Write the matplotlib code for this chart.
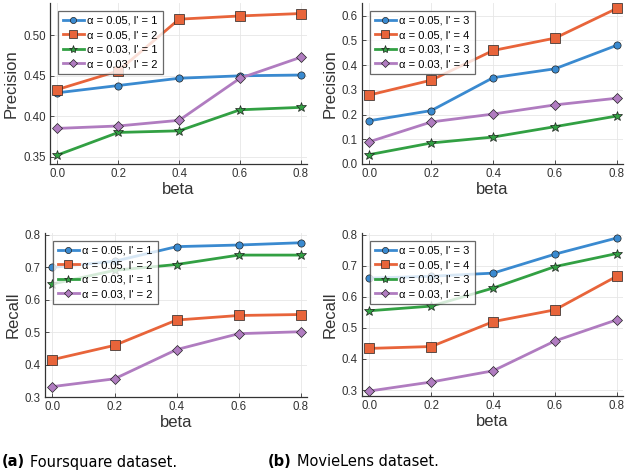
import matplotlib.pyplot as plt

plt.rcParams['font.family'] = ['Liberation Sans', 'DejaVu Sans']

beta = [0.0, 0.2, 0.4, 0.6, 0.8]

# Foursquare
fs_labels = ["α = 0.05, l' = 1", "α = 0.05, l' = 2", "α = 0.03, l' = 1", "α = 0.03, l' = 2"]
fs_precision = [
    [0.429, 0.438, 0.447, 0.450, 0.451],
    [0.433, 0.456, 0.520, 0.524, 0.527],
    [0.352, 0.380, 0.382, 0.408, 0.411],
    [0.385, 0.388, 0.395, 0.447, 0.473],
]
fs_recall = [
    [0.699, 0.718, 0.763, 0.768, 0.775],
    [0.415, 0.459, 0.537, 0.551, 0.554],
    [0.648, 0.690, 0.708, 0.737, 0.737],
    [0.332, 0.356, 0.446, 0.495, 0.501],
]

# MovieLens
ml_labels = ["α = 0.05, l' = 3", "α = 0.05, l' = 4", "α = 0.03, l' = 3", "α = 0.03, l' = 4"]
ml_precision = [
    [0.175, 0.216, 0.349, 0.385, 0.480],
    [0.279, 0.339, 0.459, 0.509, 0.629],
    [0.038, 0.085, 0.109, 0.151, 0.194],
    [0.090, 0.170, 0.202, 0.239, 0.266],
]
ml_recall = [
    [0.660, 0.666, 0.676, 0.737, 0.789],
    [0.434, 0.440, 0.520, 0.558, 0.666],
    [0.555, 0.570, 0.628, 0.697, 0.739],
    [0.297, 0.326, 0.362, 0.458, 0.526],
]

colors = ['#3a8ad0', '#e8643a', '#32a043', '#b07cc0']
markers = ['o', 's', '*', 'D']
msizes = [5.2, 6.8, 7, 4.8]

fig = plt.figure(figsize=(6.25, 4.75), dpi=100)
W, H = 625, 475


def make_ax(l, r, t, b):
    return fig.add_axes([l / W, 1 - b / H, (r - l) / W, (b - t) / H])


def draw(ax, series, labels, ylabel, ylim, yticks):
    for vals, lab, c, m, ms in zip(series, labels, colors, markers, msizes):
        ax.plot(beta, vals, color=c, lw=2.0, marker=m, ms=ms,
                mec='#222222', mew=0.5, label=lab)
    ax.set_xlim(-0.024, 0.82)
    ax.set_ylim(*ylim)
    ax.set_xticks(beta)
    ax.set_yticks(yticks)
    ax.set_xticklabels(['0.0', '0.2', '0.4', '0.6', '0.8'])
    ax.grid(True, color='#e6e6e6', lw=0.6)
    ax.set_axisbelow(True)
    for s in ['top', 'right']:
        ax.spines[s].set_visible(False)
    for s in ['left', 'bottom']:
        ax.spines[s].set_color('#333333')
        ax.spines[s].set_linewidth(0.9)
    ax.tick_params(direction='in', length=3, width=0.6, labelsize=8.3, colors='#333333',
                   labelcolor='#333333', pad=3)
    ax.set_xlabel('beta', fontsize=12, labelpad=1, color='#333333')
    ax.set_ylabel(ylabel, fontsize=12, labelpad=3, color='#333333')
    leg = ax.legend(loc='upper left', fontsize=8, fancybox=False, framealpha=0.8,
                    edgecolor='#444444', borderpad=0.45, labelspacing=0.4,
                    handlelength=1.9, handletextpad=0.3, borderaxespad=0.7,
                    markerscale=0.85)
    leg.get_frame().set_linewidth(0.9)


ax1 = make_ax(50, 307, 3, 164)
draw(ax1, fs_precision, fs_labels, 'Precision', (0.341, 0.540),
     [0.35, 0.40, 0.45, 0.50])
ax1.set_yticklabels(['0.35', '0.40', '0.45', '0.50'])

ax2 = make_ax(362, 623, 3, 164)
draw(ax2, ml_precision, ml_labels, 'Precision', (0.0, 0.651),
     [0.0, 0.1, 0.2, 0.3, 0.4, 0.5, 0.6])

ax3 = make_ax(45, 307, 233, 397)
draw(ax3, fs_recall, fs_labels, 'Recall', (0.3, 0.805),
     [0.3, 0.4, 0.5, 0.6, 0.7, 0.8])

ax4 = make_ax(362, 623, 233, 396)
draw(ax4, ml_recall, ml_labels, 'Recall', (0.281, 0.805),
     [0.3, 0.4, 0.5, 0.6, 0.7, 0.8])

cap_font = ['DejaVu Sans']
fig.text(2 / W, 1 - 462 / H, '(a)', fontsize=10.5, fontweight='bold', family=cap_font, va='center')
fig.text(30 / W, 1 - 462 / H, 'Foursquare dataset.', fontsize=10.5, family=cap_font, va='center')
fig.text(268 / W, 1 - 462 / H, '(b)', fontsize=10.5, fontweight='bold', family=cap_font, va='center')
fig.text(297 / W, 1 - 462 / H, 'MovieLens dataset.', fontsize=10.5, family=cap_font, va='center')

fig.savefig('out.png', dpi=100)
